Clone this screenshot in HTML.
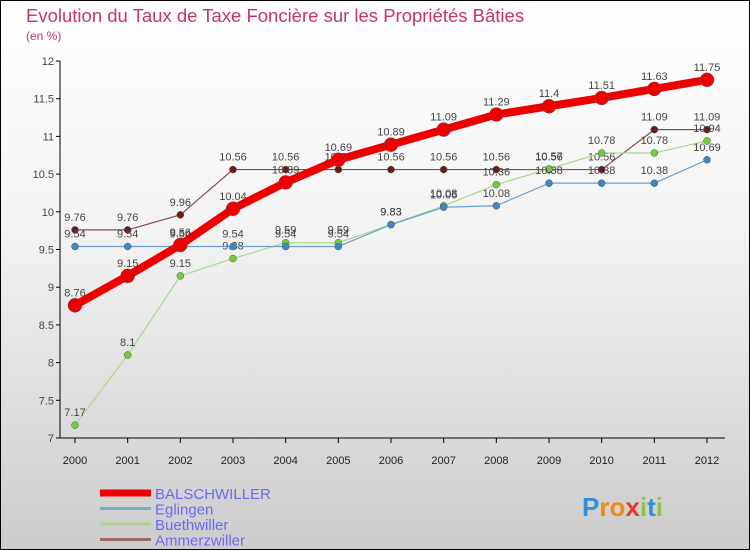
<!DOCTYPE html>
<html><head><meta charset="utf-8"><style>
body{margin:0}
#c{width:750px;height:550px;position:relative;overflow:hidden;background:linear-gradient(#ffffff,#f4f4f4 40%,#cccccc);font-family:"Liberation Sans",sans-serif}
svg text{font-family:"Liberation Sans",sans-serif}
</style></head><body>
<div id="c">
<svg id="s" width="750" height="550">
<rect x="0.5" y="0.5" width="749" height="549" fill="none" stroke="#000"/>
<text x="26" y="22" font-size="18.5" fill="#c8336a">Evolution du Taux de Taxe Foncière sur les Propriétés Bâties</text>
<text x="26" y="40" font-size="12" fill="#c8336a">(en %)</text>
</svg>
</div>
<script>
const years=[2000,2001,2002,2003,2004,2005,2006,2007,2008,2009,2010,2011,2012];
const balschwiller=[8.76,9.15,9.56,10.04,10.39,10.69,10.89,11.09,11.29,11.4,11.51,11.63,11.75];
const eglingen=[9.54,9.54,9.54,9.54,9.54,9.54,9.83,10.06,10.08,10.38,10.38,10.38,10.69];
const buethwiller=[7.17,8.1,9.15,9.38,9.59,9.59,9.83,10.08,10.36,10.57,10.78,10.78,10.94];
const ammerzwiller=[9.76,9.76,9.96,10.56,10.56,10.56,10.56,10.56,10.56,10.56,10.56,11.09,11.09];
const yTicks=[7,7.5,8,8.5,9,9.5,10,10.5,11,11.5,12];
const NS="http://www.w3.org/2000/svg",svg=document.getElementById('s');
const x=i=>75+i*(707-75)/(years.length-1);
const y=v=>438-(v-7)*(438-61)/5;
function mk(t,a){const e=document.createElementNS(NS,t);for(const k in a)e.setAttribute(k,a[k]);svg.appendChild(e);return e;}
let ax=mk('line',{x1:60,y1:61,x2:60,y2:438,stroke:'#000'});


let bx=mk('line',{x1:60,y1:438,x2:725,y2:438,stroke:'#000'});


yTicks.forEach(v=>{
 const tk=mk('line',{x1:56,y1:y(v),x2:60,y2:y(v),stroke:'#000'});
 
 
 const t=mk('text',{x:54,y:y(v)+4,'font-size':11,fill:'#444','text-anchor':'end'});
 t.textContent=v;
 
 
});
years.forEach((yr,i)=>{
 const tk=mk('line',{x1:x(i),y1:438,x2:x(i),y2:443,stroke:'#000'});
 
 
 const t=mk('text',{x:x(i),y:464,'font-size':11,fill:'#222','text-anchor':'middle'});
 t.textContent=yr;
 
 
});
function series(data,color,dot,w,r,name){
 const p=mk('polyline',{points:data.map((v,i)=>x(i)+','+y(v)).join(' '),fill:'none',stroke:color,'stroke-width':w,'stroke-linejoin':'round'});
 
 
 data.forEach((v,i)=>{
  const c=mk('circle',{cx:x(i),cy:y(v),r:r,fill:dot,stroke:'#555','stroke-width':0.5});
  
  
  const t=mk('text',{x:x(i),y:y(v)-9,'font-size':11,fill:'#444','text-anchor':'middle'});
  t.textContent=v;
  
  
 });
}
series(ammerzwiller,'#8b4a4a','#6b1a1a',1.2,3.5,'ammerzwiller');
series(buethwiller,'#a6d98a','#6fcf3a',1.2,3.5,'buethwiller');
series(eglingen,'#6a9fcf','#3a88c8',1.2,3.5,'eglingen');
series(balschwiller,'#ee0000','#ee0000',8,7,'balschwiller');
const legendNames=['BALSCHWILLER','Eglingen','Buethwiller','Ammerzwiller'];
const legendColors=['#ee0000','#7aaad0','#a6d98a','#9a6a6a'];
const legendW=[7,3,3,3];
legendNames.forEach((n,i)=>{
 const yy=493+i*15.5;
 const l=mk('line',{x1:100,y1:yy,x2:151,y2:yy,stroke:legendColors[i],'stroke-width':legendW[i]});
 
 
 const t=mk('text',{x:155,y:yy+6,'font-size':15,fill:'#6a6af0'});
 t.textContent=n;
 
 
});
const lg=mk('text',{x:582,y:516,'font-size':26,'font-weight':'bold',fill:'#3a8fd0'});


const logoColors=['#2f8fd8','#f08a1c','#f08a1c','#e63a2a','#8cc63f','#2f8fd8','#8cc63f'];
'Proxiti'.split('').forEach((ch,i)=>{const s=document.createElementNS(NS,'tspan');s.setAttribute('fill',logoColors[i]);s.textContent=ch;lg.appendChild(s);});
</script>
</body></html>
